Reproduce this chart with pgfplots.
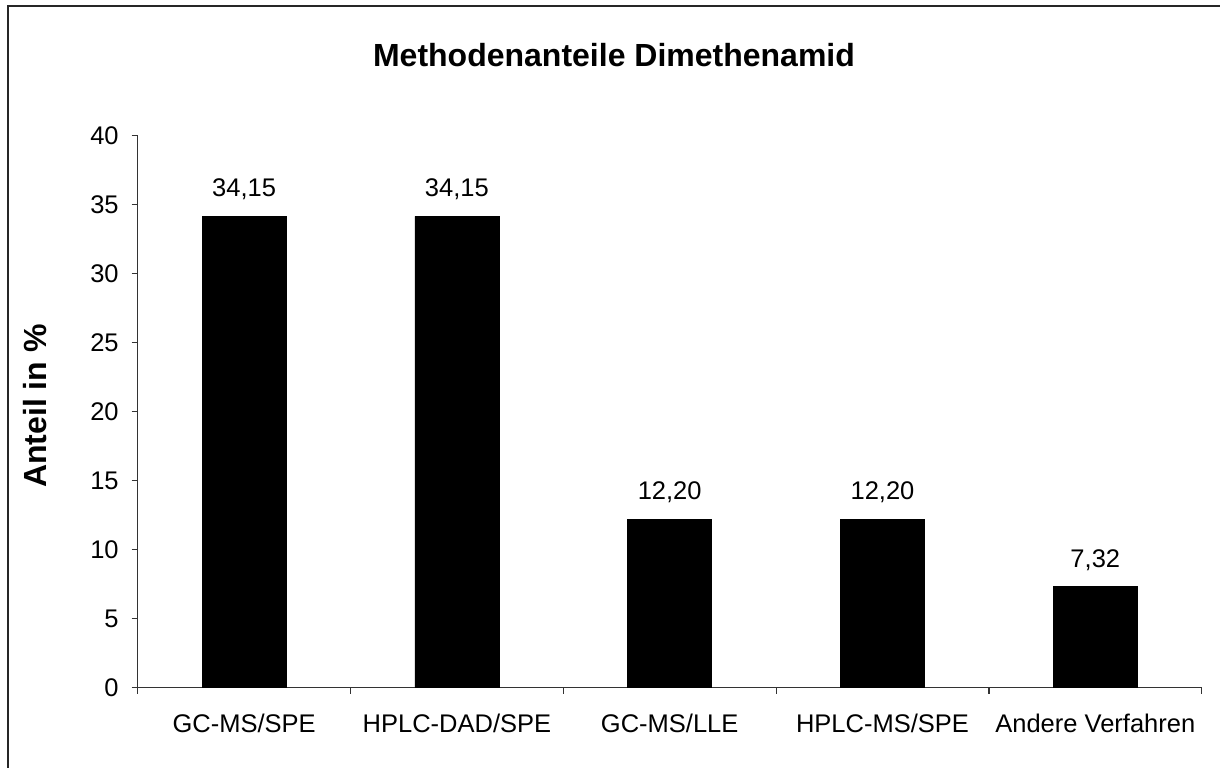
\documentclass[border=0pt]{standalone}
\usepackage{pgfplots}
\pgfplotsset{compat=1.18}
\usepackage{fontspec}
\setmainfont{Liberation Sans}
\begin{document}
\begin{tikzpicture}[x=0.5pt,y=0.5pt]
\useasboundingbox (0,0) rectangle (1220,767);
\draw[line width=1.1pt, black!85] (8,-20) -- (8,761) -- (1240,761);
\node[font=\fontsize{16}{19}\selectfont\bfseries] at (614,712) {Methodenanteile Dimethenamid};
\begin{axis}[
  at={(68.85pt,39.65pt)}, anchor=south west,
  scale only axis, width=532pt, height=276pt,
  xmin=-0.5, xmax=4.5, ymin=0, ymax=40,
  axis x line*=bottom, axis y line*=left,
  axis line style={black!80, line width=0.6pt},
  every tick/.style={black!80, line width=0.6pt},
  tick align=outside,
  ytick={0,5,...,40},
  major tick length=3pt,
  xtick={0,1,2,3,4},
  xticklabels={GC-MS/SPE,HPLC-DAD/SPE,GC-MS/LLE,HPLC-MS/SPE,Andere Verfahren},
  x tick style={draw=none},
  extra x ticks={-0.5,0.5,1.5,2.5,3.5,4.5},
  extra x tick labels={},
  extra x tick style={x tick style={draw=black!80}},
  tick label style={font=\fontsize{12.75}{15}\selectfont},
  /pgf/number format/assume math mode=true,
  xticklabel style={anchor=base, yshift=-19.5pt},
  yticklabel style={xshift=-3pt},
  ylabel={Anteil in \%},
  every axis y label/.style={at={(axis description cs:-0.0965,0.51)}, rotate=90, anchor=center, font=\fontsize{16}{19}\selectfont\bfseries},
  ybar, bar width=42pt,
  nodes near coords,
  nodes near coords style={font=\fontsize{12.75}{15}\selectfont, anchor=base, yshift=9.8pt,
    /pgf/number format/.cd, use comma, fixed, fixed zerofill, precision=2, assume math mode=true},
  clip=false,
]
\addplot[fill=black, draw=black] coordinates {(0,34.15) (1,34.15) (2,12.20) (3,12.20) (4,7.32)};
\end{axis}
\end{tikzpicture}
\end{document}
